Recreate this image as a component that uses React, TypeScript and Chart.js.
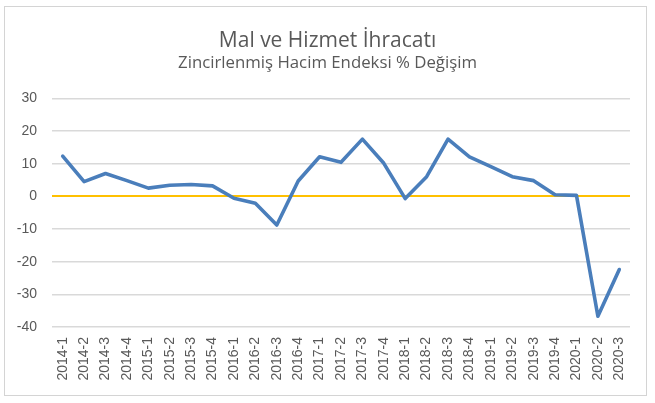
import React, { useEffect, useRef } from "react";
import { Chart, registerables } from "chart.js";

Chart.register(...registerables);

const categories: string[] = [
  "2014-1", "2014-2", "2014-3", "2014-4",
  "2015-1", "2015-2", "2015-3", "2015-4",
  "2016-1", "2016-2", "2016-3", "2016-4",
  "2017-1", "2017-2", "2017-3", "2017-4",
  "2018-1", "2018-2", "2018-3", "2018-4",
  "2019-1", "2019-2", "2019-3", "2019-4",
  "2020-1", "2020-2", "2020-3",
];

const exportChange: number[] = [
  12.3, 4.5, 7.0, 4.8,
  2.5, 3.4, 3.6, 3.2,
  -0.6, -2.1, -8.8, 4.7,
  12.1, 10.4, 17.5, 10.1,
  -0.7, 6.0, 17.5, 12.1,
  9.1, 6.0, 4.8, 0.5,
  0.3, -36.7, -22.4,
];

const yMin = -40;
const yMax = 30;
const yStep = 10;

const titleText = "Mal ve Hizmet İhracatı";
const subtitleText = "Zincirlenmiş Hacim Endeksi % Değişim";

export default function App() {
  const canvasRef = useRef<HTMLCanvasElement | null>(null);

  useEffect(() => {
    if (!canvasRef.current) return;
    const chart = new Chart(canvasRef.current, {
      type: "line",
      data: {
        labels: categories,
        datasets: [
          {
            data: exportChange,
            borderColor: "#4a7ebb",
            borderWidth: 3.6,
            pointRadius: 0,
            tension: 0,
            borderJoinStyle: "round",
            borderCapStyle: "round",
            fill: false,
            yAxisID: "y",
          },
        ],
      },
      options: {
        animation: false,
        responsive: false,
        maintainAspectRatio: false,
        layout: { padding: { top: 0, left: 0, right: 0, bottom: 0 } },
        plugins: {
          legend: { display: false },
          tooltip: { enabled: false },
          title: {
            display: true,
            text: titleText,
            color: "#595959",
            font: { family: "'Open Sans'", size: 21, weight: "normal", lineHeight: 1 },
            padding: { top: 31, bottom: 0 },
          },
          subtitle: {
            display: true,
            text: subtitleText,
            color: "#595959",
            font: { family: "'Open Sans'", size: 16.8, weight: "normal", lineHeight: 1 },
            padding: { top: 2.6, bottom: 26.9 },
          },
        },
        scales: {
          x: {
            offset: true,
            grid: { display: false, drawTicks: false },
            border: { display: false },
            ticks: {
              color: "#595959",
              font: { family: "'Liberation Sans'", size: 14 },
              minRotation: 90,
              maxRotation: 90,
              autoSkip: false,
              padding: 10,
            },
            afterFit: (scale: any) => {
              scale.height = 76;
            },
          },
          y: {
            min: yMin,
            max: yMax,
            grid: {
              drawTicks: false,
              lineWidth: (ctx: any) => (ctx.tick && ctx.tick.value === 0 ? 2 : 1.5),
              color: (ctx: any) => (ctx.tick && ctx.tick.value === 0 ? "#ffc000" : "#d9d9d9"),
            },
            border: { display: false },
            ticks: {
              stepSize: yStep,
              color: "#595959",
              font: { family: "'Liberation Sans'", size: 14 },
              padding: 15,
            },
            afterFit: (scale: any) => {
              scale.width = 52;
            },
          },
          yRight: {
            type: "linear",
            position: "right",
            display: true,
            grid: { display: false, drawTicks: false },
            border: { display: false },
            ticks: { display: false },
            afterFit: (scale: any) => {
              scale.width = 25;
            },
          },
        },
      },
    });
    return () => chart.destroy();
  }, []);

  return (
    <div
      style={{
        position: "absolute",
        left: 0,
        top: 0,
        width: 655,
        height: 403,
        background: "#ffffff",
      }}
    >
      <div
        style={{
          position: "absolute",
          left: 4,
          top: 6,
          width: 641,
          height: 388,
          border: "1.5px solid #d4d4d4",
        }}
      />
      <canvas
        ref={canvasRef}
        width={655}
        height={403}
        style={{ position: "absolute", left: 0, top: 0, width: 655, height: 403 }}
      />
    </div>
  );
}
